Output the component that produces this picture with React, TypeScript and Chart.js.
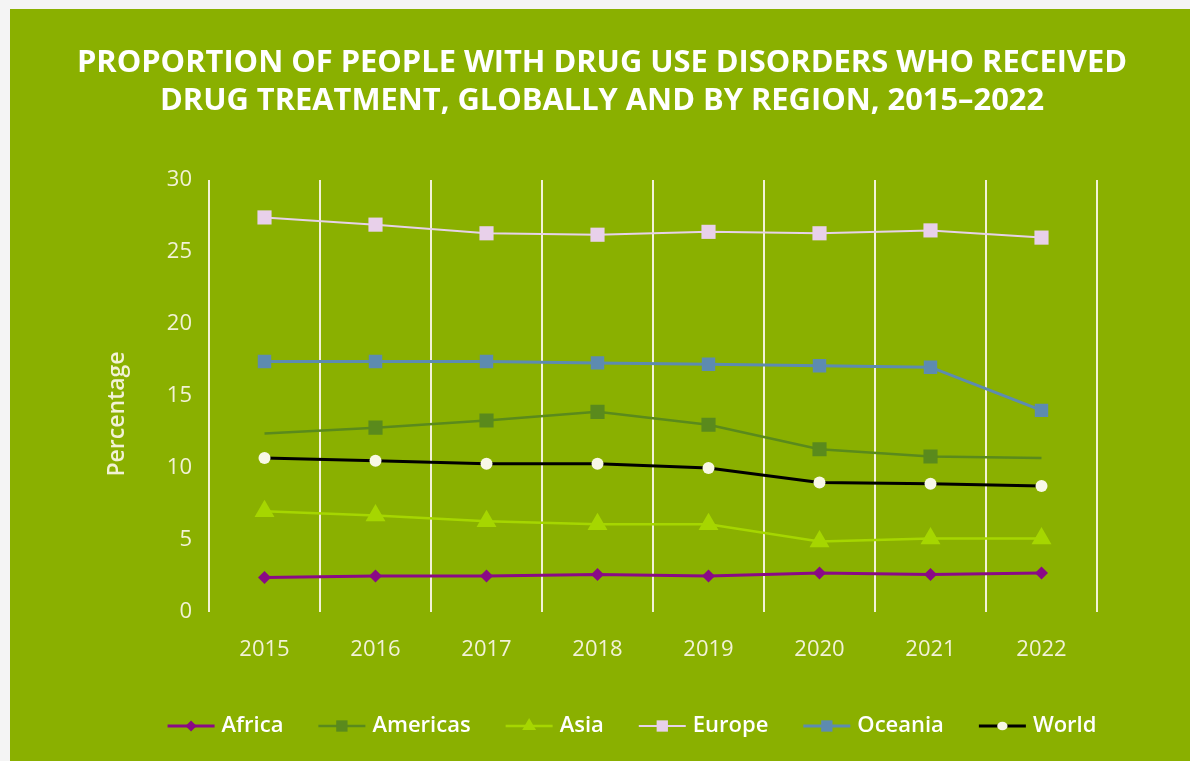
import React, { useEffect, useRef } from 'react';
import { Chart, registerables } from 'chart.js';

Chart.register(...registerables);

const years = ['2015', '2016', '2017', '2018', '2019', '2020', '2021', '2022'];
const africa = [2.4, 2.5, 2.5, 2.6, 2.5, 2.7, 2.6, 2.7];
const americas = [12.4, 12.8, 13.3, 13.9, 13.0, 11.3, 10.8, 10.7];
const asia = [7.0, 6.7, 6.3, 6.1, 6.1, 4.9, 5.1, 5.1];
const europe = [27.4, 26.9, 26.3, 26.2, 26.4, 26.3, 26.5, 26.0];
const oceania = [17.4, 17.4, 17.4, 17.3, 17.2, 17.1, 17.0, 14.0];
const world = [10.7, 10.5, 10.3, 10.3, 10.0, 9.0, 8.9, 8.75];
const titleLines = [
  'PROPORTION OF PEOPLE WITH DRUG USE DISORDERS WHO RECEIVED',
  'DRUG TREATMENT, GLOBALLY AND BY REGION, 2015\u20132022',
];
const yTitle = 'Percentage';

const GREEN = '#8ab000';
const CREAM = '#f2f2d6';
const FONT = '"Open Sans", sans-serif';

function drawMarker(ctx: CanvasRenderingContext2D, style: string, x: number, y: number, r: number, color: string) {
  ctx.save();
  ctx.fillStyle = color;
  ctx.beginPath();
  if (style === 'rect') {
    const s = r * Math.SQRT1_2;
    ctx.rect(x - s, y - s, 2 * s, 2 * s);
  } else if (style === 'rectRot') {
    ctx.moveTo(x, y - r);
    ctx.lineTo(x + r, y);
    ctx.lineTo(x, y + r);
    ctx.lineTo(x - r, y);
    ctx.closePath();
  } else if (style === 'triangle') {
    ctx.moveTo(x, y - r);
    ctx.lineTo(x + r * 0.866, y + r * 0.5);
    ctx.lineTo(x - r * 0.866, y + r * 0.5);
    ctx.closePath();
  } else {
    ctx.ellipse(x, y, r * 1.15, r * 0.95, 0, 0, Math.PI * 2);
  }
  ctx.fill();
  ctx.restore();
}

const decorPlugin = {
  id: 'decor',
  afterDraw(chart: any) {
    const ctx: CanvasRenderingContext2D = chart.ctx;
    const W = chart.width;
    ctx.save();
    // title
    ctx.fillStyle = '#ffffff';
    ctx.font = `bold 30px ${FONT}`;
    ctx.textAlign = 'center';
    ctx.textBaseline = 'middle';
    const targetW = 1050;
    const w1 = ctx.measureText(titleLines[0]).width;
    const sx = targetW / w1;
    titleLines.forEach((line, i) => {
      ctx.save();
      ctx.translate(W / 2 + 2, 54 + i * 38);
      ctx.scale(sx, 1);
      ctx.fillText(line, 0, 0);
      ctx.restore();
    });
    // y title
    ctx.save();
    ctx.translate(107, 405);
    ctx.rotate(-Math.PI / 2);
    ctx.font = `600 23px ${FONT}`;
    ctx.fillStyle = CREAM;
    ctx.fillText(yTitle, 0, 0);
    ctx.restore();
    // legend
    ctx.font = `600 22px ${FONT}`;
    const lineLen = 47;
    const gapText = 7;
    const gapItem = 35;
    const items = chart.data.datasets.map((ds: any) => ({
      label: ds.label,
      color: ds.borderColor,
      mcolor: ds.pointBackgroundColor,
      style: ds.pointStyle,
      lw: ds.borderWidth,
      r: ds.legendR,
      tw: ctx.measureText(ds.label).width,
    }));
    const total = items.reduce((s: number, it: any) => s + lineLen + gapText + it.tw, 0) + gapItem * (items.length - 1);
    let x = 622 - total / 2;
    const y = 717;
    ctx.textAlign = 'left';
    items.forEach((it: any) => {
      ctx.strokeStyle = it.color;
      ctx.lineWidth = it.lw;
      ctx.beginPath();
      ctx.moveTo(x, y);
      ctx.lineTo(x + lineLen, y);
      ctx.stroke();
      drawMarker(ctx, it.style, x + lineLen / 2, y, it.r, it.mcolor);
      ctx.fillStyle = '#ffffff';
      ctx.fillText(it.label, x + lineLen + gapText, y);
      x += lineLen + gapText + it.tw + gapItem;
    });
    ctx.restore();
  },
};

export default function App() {
  const ref = useRef<HTMLCanvasElement>(null);
  useEffect(() => {
    if (!ref.current) return;
    const mk = (label: string, data: number[], color: string, mcolor: string, style: string, r: number | number[], lw: number, legendR: number) => ({
      label,
      data,
      borderColor: color,
      backgroundColor: mcolor,
      pointBackgroundColor: mcolor,
      pointBorderWidth: 0,
      pointStyle: style,
      pointRadius: r,
      pointHoverRadius: r,
      borderWidth: lw,
      tension: 0,
      legendR,
    });
    const chart = new Chart(ref.current, {
      type: 'line',
      data: {
        labels: years,
        datasets: [
          mk('Africa', africa, '#8a0a86', '#8a0a86', 'rectRot', 6.5, 3, 5.5),
          mk('Americas', americas, '#5a8a1c', '#5a8a1c', 'rect', [0, 10, 10, 10, 10, 10, 10, 0], 2.5, 8),
          mk('Asia', asia, '#a6d600', '#a6d600', 'triangle', 11.5, 2.5, 8),
          mk('Europe', europe, '#e6d2e8', '#e8d0ea', 'rect', 10, 2, 8),
          mk('Oceania', oceania, '#5d8bb0', '#5d8bb0', 'rect', 9.5, 3, 8),
          mk('World', world, '#000000', '#f8f8e6', 'circle', 6, 3, 4.5),
        ] as any,
      },
      options: {
        responsive: false,
        animation: false,
        layout: { padding: { top: 171, right: 93, left: 0, bottom: 89 } },
        plugins: {
          legend: { display: false },
          tooltip: { enabled: false },
          title: { display: false },
        },
        scales: {
          x: {
            offset: true,
            grid: { display: true, offset: true, color: CREAM, lineWidth: 2, drawTicks: false },
            border: { display: false },
            ticks: { color: CREAM, font: { family: FONT, size: 22 }, padding: 25 },
            afterFit: (s: any) => { s.height = 60; },
          },
          y: {
            min: 0,
            max: 30,
            grid: { display: false, drawTicks: false },
            border: { display: false },
            ticks: { stepSize: 5, color: CREAM, font: { family: FONT, size: 22 }, padding: 17 },
            afterFit: (s: any) => { s.width = 199; },
          },
        },
      },
      plugins: [decorPlugin],
    });
    return () => chart.destroy();
  }, []);
  return (
    <div style={{ position: 'fixed', inset: 0, background: '#f4f4f4' }}>
      <div style={{ position: 'absolute', left: 10, top: 9, width: 1180, height: 752, background: GREEN }}>
        <canvas ref={ref} width={1180} height={752} style={{ display: 'block', width: 1180, height: 752 }} />
      </div>
    </div>
  );
}
